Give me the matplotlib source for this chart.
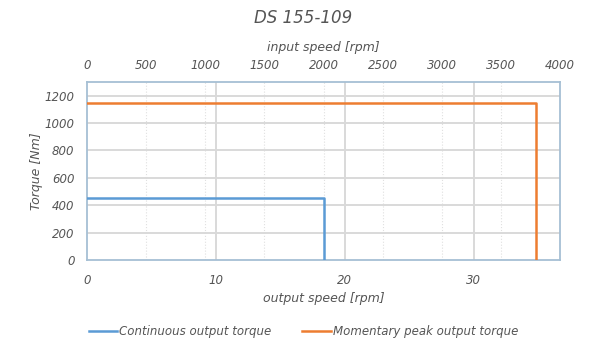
import matplotlib
matplotlib.use("Agg")
import matplotlib.pyplot as plt
from matplotlib.lines import Line2D

plt.rcParams['font.family'] = ['DejaVu Sans']
plt.rcParams['font.style'] = 'italic'

title = "DS 155-109"
ratio = 109
cont_x = [0, 2000 / 109, 2000 / 109]
cont_y = [450, 450, 0]
peak_x = [0, 3800 / 109, 3800 / 109]
peak_y = [1150, 1150, 0]
yticks = [0, 200, 400, 600, 800, 1000, 1200]
xticks_bottom = [0, 10, 20, 30]
xticks_top = [0, 500, 1000, 1500, 2000, 2500, 3000, 3500, 4000]

txt = '#555555'
frame = '#a6bfd4'
grid = '#d9d9d9'
blue = '#5b9bd5'
orange = '#ed7d31'

fig = plt.figure(figsize=(6.07, 3.48), dpi=100)
ax = fig.add_axes([87/607, 1-260/348, (560-87)/607, (260-82)/348])

xmax = 4000 / ratio
ax.set_xlim(0, xmax)
ax.set_ylim(0, 1300)

for t in xticks_top[1:-1]:
    ax.axvline(t / ratio, color='#e0e0e0', lw=0.8, ls=':', zorder=0)
for t in xticks_bottom[1:]:
    ax.axvline(t, color=grid, lw=1.4, zorder=0)
for t in yticks[1:]:
    ax.axhline(t, color=grid, lw=1.4, zorder=0)

ax.plot(cont_x, cont_y, color=blue, lw=1.8, zorder=3)
ax.plot(peak_x, peak_y, color=orange, lw=1.8, zorder=3)

ax.set_yticks(yticks)
ax.set_xticks(xticks_bottom)
for s in ax.spines.values():
    s.set_color(frame)
    s.set_linewidth(1.3)
ax.tick_params(axis='both', colors=txt, labelsize=8.5, length=0)
ax.tick_params(axis='x', pad=10)
ax.tick_params(axis='y', pad=9)
ax.set_xlabel('output speed [rpm]', color=txt, fontsize=9, labelpad=4)
ax.set_ylabel('Torque [Nm]', color=txt, fontsize=9, labelpad=1)

ax2 = ax.twiny()
ax2.set_xlim(0, 4000)
ax2.set_xticks(xticks_top)
ax2.tick_params(axis='x', colors=txt, labelsize=8.5, length=0, pad=7)
for s in ax2.spines.values():
    s.set_visible(False)
ax2.set_xlabel('input speed [rpm]', color=txt, fontsize=9, labelpad=6)

fig.text(0.5, 1-18/348, title, ha='center', va='center', fontsize=12, color=txt)

handles = [Line2D([], [], color=blue, lw=1.8), Line2D([], [], color=orange, lw=1.8)]
fig.legend(handles, ['Continuous output torque', 'Momentary peak output torque'],
           loc='center', bbox_to_anchor=(0.5, 1-332/348), ncol=2, frameon=False,
           fontsize=8.5, labelcolor=txt, handlelength=2.4, handletextpad=0.2, columnspacing=2.6)

fig.savefig('out.png', dpi=100)
